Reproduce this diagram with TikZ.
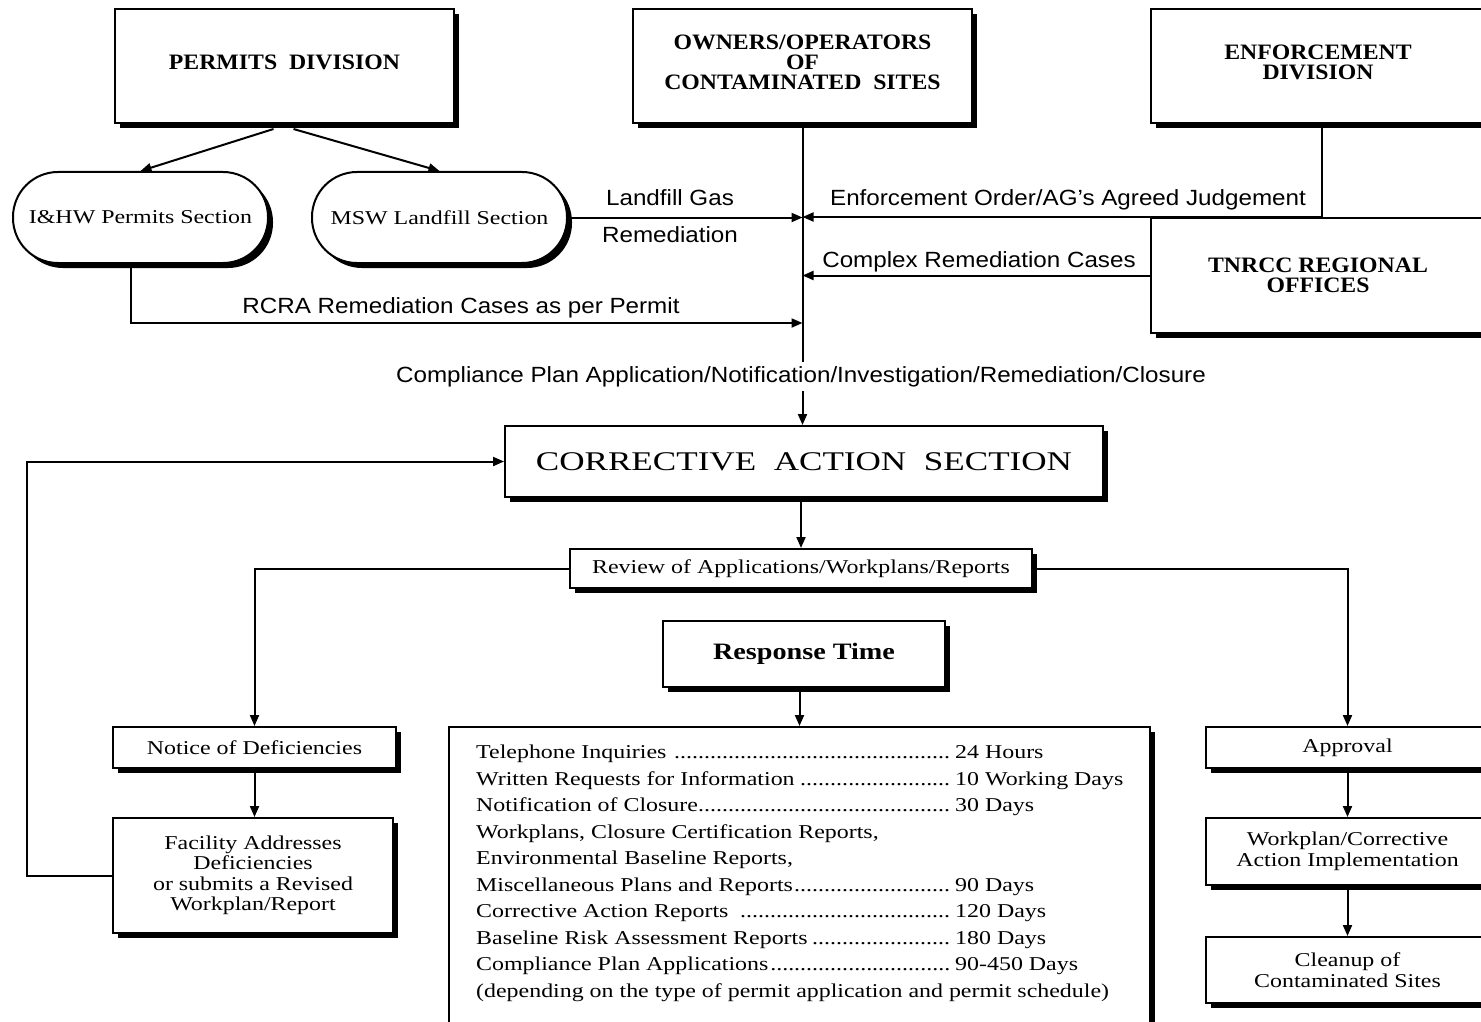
\documentclass[tikz,border=0pt]{standalone}
\usepackage{fontspec}
\usetikzlibrary{arrows.meta,shadows,calc}

% Type faces: a widened Times-like serif for the boxes, a sans for the flow labels
\newfontfamily\bodyserif[FakeStretch=1.22]{Liberation Serif}
\newfontfamily\headserif[FakeStretch=1.08]{Liberation Serif}
\newfontfamily\bigserif[FakeStretch=1.3]{Liberation Serif}
\newfontfamily\respserif[FakeStretch=1.2]{Liberation Serif}
\newfontfamily\lblsans[FakeStretch=1.1]{Liberation Sans}

\newcommand\fBody{\bodyserif\fontsize{19.6pt}{20.5pt}\selectfont}
\newcommand\fList{\bodyserif\fontsize{19.6pt}{26.5pt}\selectfont}
\newcommand\fHead{\headserif\bfseries\fontsize{22pt}{20pt}\selectfont}
\newcommand\fBig{\bigserif\fontsize{27pt}{30pt}\selectfont}
\newcommand\fResp{\respserif\bfseries\fontsize{23.5pt}{26pt}\selectfont}
\newcommand\fLbl{\lblsans\fontsize{22pt}{24pt}\selectfont}

% one row of the response-time table: item, dot leaders, duration
\newcommand\rtrow[2]{\makebox[479pt][l]{#1\leaders\hbox to 6pt{\hss.\hss}\hfill}#2}

\begin{document}
\begin{tikzpicture}[x=1pt,y=-1pt,
  box/.style={draw, line width=2pt, fill=white, rectangle, inner sep=0pt, align=center,
    drop shadow={shadow xshift=5pt, shadow yshift=-5pt, opacity=1, fill=black}},
  pill/.style={box, rounded corners=45pt},
  arr/.style={line width=2pt, -{Triangle[length=11pt,width=9pt]}},
  lbl/.style={font=\fLbl, inner sep=0pt}]

\useasboundingbox (0,0) rectangle (1481,1022);
\fill[white] (0,0) rectangle (1481,1022);
\clip (0,0) rectangle (1481,1022);

% ---- top row (titles sit slightly above the box middle) ----
\node[box, font=\fHead, minimum width=339pt, minimum height=114pt] (perm) at (284.5,66) {PERMITS\ \ DIVISION\\[-12pt]};
\node[box, font=\fHead, minimum width=339pt, minimum height=114pt] (owners) at (802.5,66)
  {OWNERS/OPERATORS\\OF\\CONTAMINATED\ \ SITES\\[-12pt]};
\node[box, font=\fHead, minimum width=334pt, minimum height=114pt] (enf) at (1318,66) {ENFORCEMENT\\DIVISION\\[-12pt]};

% ---- permit sections and regional offices ----
\node[pill, font=\fBody, minimum width=255pt, minimum height=91pt] (ihw) at (140.5,217.5) {I\&HW Permits Section};
\node[pill, font=\fBody, minimum width=255pt, minimum height=91pt] (msw) at (439.5,217.5) {MSW Landfill Section};
\node[box, font=\fHead, minimum width=334pt, minimum height=115pt] (tnrcc) at (1318,275.5) {TNRCC REGIONAL\\OFFICES};

% ---- corrective action ----
\node[box, font=\fBig, minimum width=598pt, minimum height=71pt] (cas) at (804,461.5) {CORRECTIVE~~ACTION~~SECTION};
\node[box, font=\fBody, minimum width=462pt, minimum height=39pt] (review) at (801,568.5) {Review of Applications/Workplans/Reports};
\node[box, font=\fResp, minimum width=282pt, minimum height=66pt] (resp) at (804,654) {Response Time};
\node[box, minimum width=701pt, minimum height=323pt] (times) at (799.5,888.5) {};
\node[font=\fList, align=left, anchor=north west, inner sep=0pt] (rtlist) at (476,745) {%
  \rtrow{Telephone Inquiries }{24 Hours}\\
  \rtrow{Written Requests for Information}{10 Working Days}\\
  \rtrow{Notification of Closure}{30 Days}\\
  Workplans, Closure Certification Reports,\\
  Environmental Baseline Reports,\\
  \rtrow{Miscellaneous Plans and Reports}{90 Days}\\
  \rtrow{Corrective Action Reports }{120 Days}\\
  \rtrow{Baseline Risk Assessment Reports}{180 Days}\\
  \rtrow{Compliance Plan Applications}{90-450 Days}\\
  (depending on the type of permit application and permit schedule)};

% ---- deficiencies branch ----
\node[box, font=\fBody, minimum width=283pt, minimum height=41pt] (notice) at (254.5,747.5) {Notice of Deficiencies};
\node[box, font=\fBody, minimum width=280pt, minimum height=115pt] (facility) at (253,875.5)
  {Facility Addresses\\Deficiencies\\or submits a Revised\\Workplan/Report};

% ---- approval branch ----
\node[box, font=\fBody, minimum width=283pt, minimum height=41pt] (approval) at (1347.5,747.5) {Approval};
\node[box, font=\fBody, minimum width=283pt, minimum height=67pt] (workplan) at (1347.5,851.5)
  {Workplan/Corrective\\Action Implementation};
\node[box, font=\fBody, minimum width=283pt, minimum height=66pt] (cleanup) at (1347.5,970)
  {Cleanup of\\Contaminated Sites};

% ---- connectors ----
\coordinate (rcraY) at (0,323);
\draw[arr] ([shift={(-11,5)}]perm.south) -- (ihw.north);
\draw[arr] ([shift={(9,5)}]perm.south) -- (msw.north);
\draw[arr] (owners.south) -- (owners.south |- cas.north);
\draw[arr] (msw.east) -- (msw.east -| owners.south);
\draw[arr] ([xshift=4pt]enf.south) |- (owners.south |- tnrcc.north);
\draw[arr] (tnrcc.west) -- (tnrcc.west -| owners.south);
\draw[arr] ([xshift=-10pt]ihw.south) |- (owners.south |- rcraY);
\draw[arr] (review.north |- cas.south) -- (review.north);
\draw[arr] (review.west) -| (notice.north);
\draw[arr] (review.east) -| (approval.north);
\draw[arr] (times.north |- resp.south) -- (times.north);
\draw[arr] (notice.south) -- (notice.south |- facility.north);
\draw[arr] (facility.west) -- ++(-85,0) |- (cas.west);
\draw[arr] (approval.south) -- (workplan.north);
\draw[arr] (workplan.south) -- (cleanup.north);

% ---- flow labels ----
\node[lbl, anchor=base] (lgas) at (670,205) {Landfill Gas};
\node[lbl, anchor=base] (lrem) at (670,242) {Remediation};
\node[lbl, anchor=base] (lenf) at (1068,205) {Enforcement Order/AG’s Agreed Judgement};
\node[lbl, anchor=base] (lcx) at (979,267) {Complex Remediation Cases};
\node[lbl, anchor=base] (lrcra) at (461,313) {RCRA Remediation Cases as per Permit};
\node[lbl, anchor=base, fill=white, inner sep=4pt] (lcomp) at (801,382)
  {Compliance Plan Application/Notification/Investigation/Remediation/Closure};
\end{tikzpicture}
\end{document}
